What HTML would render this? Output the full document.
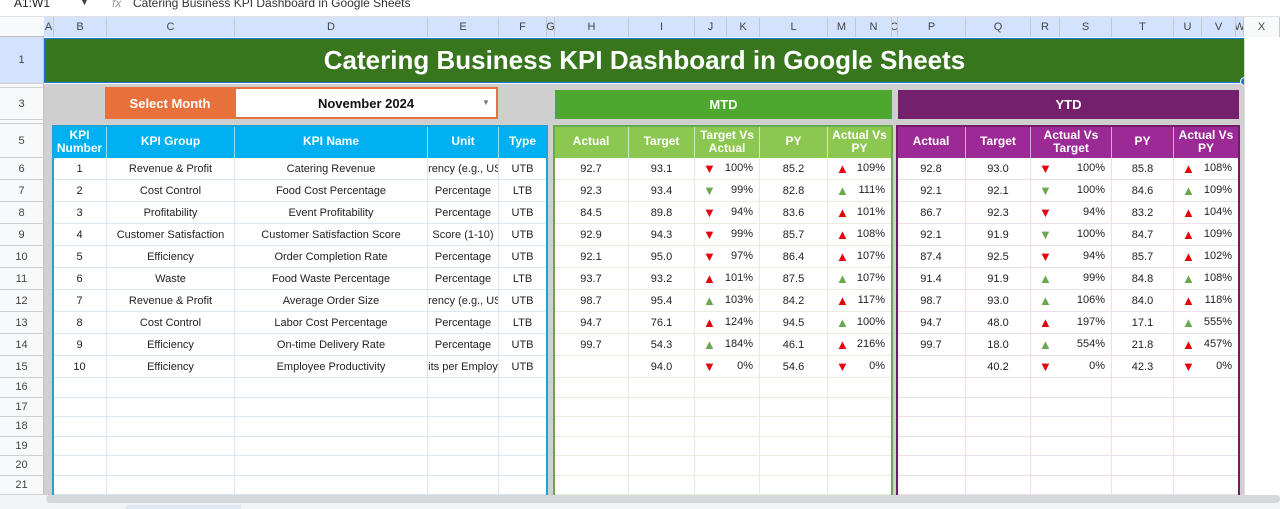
<!DOCTYPE html>
<html><head><meta charset="utf-8">
<style>
*{box-sizing:border-box;margin:0;padding:0}
body{width:1280px;height:509px;overflow:hidden;background:#fff;font-family:"Liberation Sans",Arial,sans-serif;position:relative}
.a{position:absolute}
.c{display:flex;align-items:center;justify-content:center;text-align:center;white-space:nowrap;overflow:hidden}
.hd{font-size:11px;color:#444;background:#d3e3fd}
.cell{font-size:11px;color:#222}
.th{font-size:12px;font-weight:bold;color:#fff;line-height:13px;white-space:normal}
.ar{font-size:13px;line-height:13px}
</style></head><body>
<div class="a" style="left:0;top:0;width:1280px;height:17px;background:#fff;border-bottom:1px solid #e0e0e0"></div>
<div class="a" style="left:14px;top:-4px;font-size:12px;color:#222">A1:W1</div>
<div class="a" style="left:80px;top:-3px;font-size:9px;color:#444">▼</div>
<div class="a" style="left:112px;top:-4px;font-size:12px;color:#999;font-style:italic">fx</div>
<div class="a" style="left:133px;top:-4px;font-size:12px;color:#333">Catering Business KPI Dashboard in Google Sheets</div>
<div id="g"></div>
<script>
const colEdges=[44,54,107,235,428,499,547,555,629,695,727,760,828,856,892,898,966,1031,1060,1112,1174,1202,1236,1244,1280];
const colLetters=["A","B","C","D","E","F","G","H","I","J","K","L","M","N","O","P","Q","R","S","T","U","V","W","X"];
const kpiNum=[1,2,3,4,5,6,7,8,9,10];
const kpiGroup=["Revenue & Profit","Cost Control","Profitability","Customer Satisfaction","Efficiency","Waste","Revenue & Profit","Cost Control","Efficiency","Efficiency"];
const kpiName=["Catering Revenue","Food Cost Percentage","Event Profitability","Customer Satisfaction Score","Order Completion Rate","Food Waste Percentage","Average Order Size","Labor Cost Percentage","On-time Delivery Rate","Employee Productivity"];
const kpiUnit=["rrency (e.g., US","Percentage","Percentage","Score (1-10)","Percentage","Percentage","rrency (e.g., US","Percentage","Percentage","nits per Employe"];
const kpiType=["UTB","LTB","UTB","UTB","UTB","LTB","UTB","LTB","UTB","UTB"];
const mtdActual=["92.7","92.3","84.5","92.9","92.1","93.7","98.7","94.7","99.7",""];
const mtdTarget=["93.1","93.4","89.8","94.3","95.0","93.2","95.4","76.1","54.3","94.0"];
const mtdTvA=["100%","99%","94%","99%","97%","101%","103%","124%","184%","0%"];
const mtdTvAIcon=["dr","dg","dr","dr","dr","ur","ug","ur","ug","dr"];
const mtdPY=["85.2","82.8","83.6","85.7","86.4","87.5","84.2","94.5","46.1","54.6"];
const mtdAvP=["109%","111%","101%","108%","107%","107%","117%","100%","216%","0%"];
const mtdAvPIcon=["ur","ug","ur","ur","ur","ug","ur","ug","ur","dr"];
const ytdActual=["92.8","92.1","86.7","92.1","87.4","91.4","98.7","94.7","99.7",""];
const ytdTarget=["93.0","92.1","92.3","91.9","92.5","91.9","93.0","48.0","18.0","40.2"];
const ytdAvT=["100%","100%","94%","100%","94%","99%","106%","197%","554%","0%"];
const ytdAvTIcon=["dr","dg","dr","dg","dr","ug","ug","ur","ug","dr"];
const ytdPY=["85.8","84.6","83.2","84.7","85.7","84.8","84.0","17.1","21.8","42.3"];
const ytdAvP=["108%","109%","104%","109%","102%","108%","118%","555%","457%","0%"];
const ytdAvPIcon=["ur","ug","ur","ur","ur","ug","ur","ug","ur","dr"];

const G=document.getElementById('g');
function box(l,t,w,h,style,cls,txt){const d=document.createElement('div');d.className='a '+(cls||'');d.style.cssText=`left:${l}px;top:${t}px;width:${w}px;height:${h}px;`+(style||'');if(txt!==undefined)d.textContent=txt;G.appendChild(d);return d;}
const rowTop=[];rowTop[1]=37;rowTop[2]=84;rowTop[3]=88;rowTop[4]=120;rowTop[5]=124;
for(let r=6;r<=16;r++)rowTop[r]=158+(r-6)*22;
for(let r=17;r<=22;r++)rowTop[r]=378+(r-16)*19.5;
const rowEnd=r=>rowTop[r+1];
let e=box(44,37,1236,458,'background:#fff');

e=box(0,17,1280,20,'background:#f8f9fa;border-bottom:1px solid #c0c0c0');

for(let i=0;i<colLetters.length;i++){
 const sel=i<23;
 e=box(colEdges[i],17,colEdges[i+1]-colEdges[i],20,'border-right:1px solid #c8c8c8;background:'+(sel?'#d3e3fd':'#f8f9fa'),'c hd',colLetters[i]);
 
}
for(let r=1;r<=21;r++){
 e=box(0,rowTop[r],44,rowEnd(r)-rowTop[r],'border-bottom:1px solid #d0d0d0;border-right:1px solid #c0c0c0;background:'+(r==1?'#d3e3fd':'#f8f9fa'),'c hd',(r==2||r==4)?'':String(r));
 
}
e=box(44,84,1200,74,'background:#cfcfcf');
e=box(44,124,1200,371,'background:#d0d0d0');
e=box(44,38,1201,45,'background:#38761d;border:1px solid #1a73e8;font-size:26px;font-weight:bold;color:#fff','c','Catering Business KPI Dashboard in Google Sheets');

e=box(1240,77,9,9,'background:#1a73e8;border-radius:50%;border:1px solid #fff');
e=box(105,87,130,32,'background:#e8703a;font-size:13px;font-weight:bold;color:#fff','c','Select Month');

e=box(234,87,264,32,'background:#fff;border:2px solid #e8703a;font-size:13px;font-weight:bold;color:#111','c','November 2024');

e=box(480,96,12,12,'font-size:8px;color:#777','c','▼');
e=box(555,90,337,29,'background:#4ea72e;font-size:13px;font-weight:bold;color:#fff','c','MTD');

e=box(898,90,341,29,'background:#75206c;font-size:13px;font-weight:bold;color:#fff','c','YTD');

const tables=[
 {name:'kpi',l:53,r:547,border:'#1fa2d9',hbg:'#00b0f0',grid:'#d6e8f2',
  cols:[[53,107,'KPI Number',kpiNum],[107,235,'KPI Group',kpiGroup],[235,428,'KPI Name',kpiName],[428,499,'Unit',kpiUnit],[499,547,'Type',kpiType]]},
 {name:'mtd',l:554,r:892,border:'#6aa84f',hbg:'#8cc751',grid:'#e3efd8',
  cols:[[554,629,'Actual',mtdActual],[629,695,'Target',mtdTarget],[695,760,'Target Vs Actual',mtdTvA,mtdTvAIcon],[760,828,'PY',mtdPY],[828,892,'Actual Vs PY',mtdAvP,mtdAvPIcon]]},
 {name:'ytd',l:897,r:1239,border:'#741b6a',hbg:'#9c2a96',grid:'#f0dcef',
  cols:[[897,966,'Actual',ytdActual],[966,1031,'Target',ytdTarget],[1031,1112,'Actual Vs Target',ytdAvT,ytdAvTIcon],[1112,1174,'PY',ytdPY],[1174,1239,'Actual Vs PY',ytdAvP,ytdAvPIcon]]}
];
for(const t of tables){
 e=box(t.l,125,t.r-t.l,370,'background:#fff');
 for(const c of t.cols){
  e=box(c[0],125,c[1]-c[0],33,'background:'+t.hbg+';border-right:1px solid rgba(255,255,255,0.6);padding:0 2px','c th',c[2]);
  
  for(let r=6;r<=21;r++){
   const i=r-6, top=rowTop[r], h=rowEnd(r)-top;
   let val=(i<10)?String(c[3][i]):'';
   e=box(c[0],top,c[1]-c[0],h,'border-right:1px solid '+t.grid+';border-bottom:1px solid '+t.grid,'c cell',c[4]?'':val);
   
   if(c[4]&&i<10){
    const ic=c[4][i];
    const a=document.createElement('span');a.className='ar';a.style.cssText='position:absolute;left:8px;top:4px;color:'+(ic[1]=='r'?'#e8000b':'#6aa84f');a.textContent=ic[0]=='u'?'▲':'▼';
    
    
    e.appendChild(a);
    const v=document.createElement('span');v.style.cssText='position:absolute;right:6px;top:4px';v.textContent=val;
    
    
    e.appendChild(v);
   }
  }
 }
 e=box(t.l-1,125,t.r-t.l+2,370,'border:2px solid '+t.border+';border-bottom:none');
}
e=box(1244,37,36,458,'background:#fff;border-left:1px solid #e0e0e0');
e=box(0,495,1280,14,'background:#f1f3f4');
e=box(46,495,1234,8,'background:#d5d7da;border-radius:4px');
e=box(126,505,115,4,'background:#dde6f3');
</script>
</body></html>
